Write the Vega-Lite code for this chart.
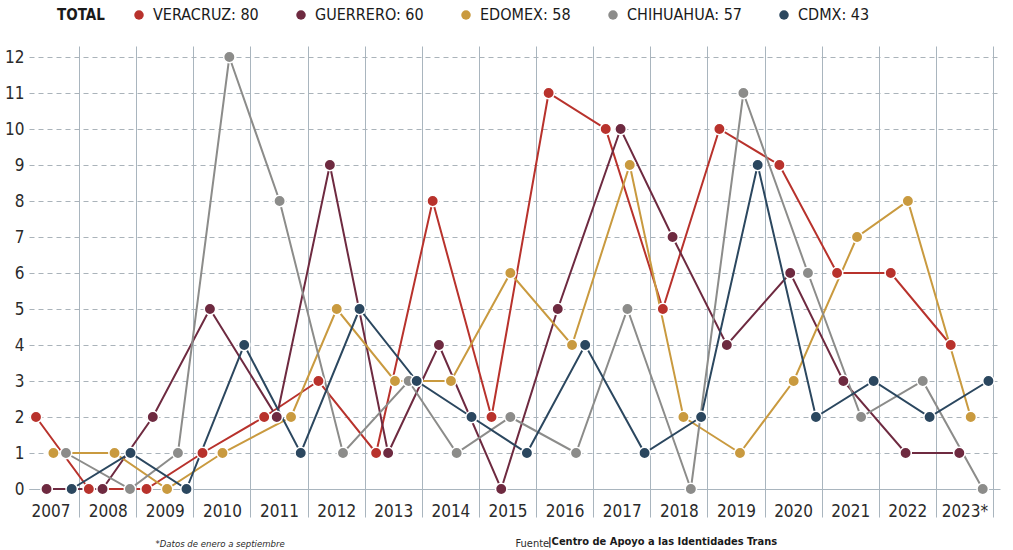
{
  "$schema": "https://vega.github.io/schema/vega-lite/v6.json",
  "width": 971,
  "height": 443,
  "autosize": "none",
  "padding": {"left": 29, "top": 46, "right": 13, "bottom": 61},
  "background": "white",
  "config": {
    "view": {"stroke": null},
    "font": "Liberation Sans Narrow, DejaVu Sans Condensed, sans-serif"
  },
  "title": {
    "text": "|Centro de Apoyo a las Identidades Trans",
    "orient": "bottom",
    "anchor": "start",
    "frame": "group",
    "baseline": "middle",
    "offset": 0,
    "dy": -6,
    "dx": 519,
    "fontSize": 11,
    "fontWeight": "bold",
    "font": "Liberation Sans Narrow, DejaVu Sans Condensed, sans-serif",
    "color": "#1a1a1a"
  },
  "data": {
    "values": [
      {"estado": "VERACRUZ", "fecha": 2007.245, "casos": 2},
      {"estado": "VERACRUZ", "fecha": 2008.17, "casos": 0},
      {"estado": "VERACRUZ", "fecha": 2009.18, "casos": 0},
      {"estado": "VERACRUZ", "fecha": 2010.16, "casos": 1},
      {"estado": "VERACRUZ", "fecha": 2011.24, "casos": 2},
      {"estado": "VERACRUZ", "fecha": 2012.19, "casos": 3},
      {"estado": "VERACRUZ", "fecha": 2013.2, "casos": 1},
      {"estado": "VERACRUZ", "fecha": 2014.19, "casos": 8},
      {"estado": "VERACRUZ", "fecha": 2015.22, "casos": 2},
      {"estado": "VERACRUZ", "fecha": 2016.22, "casos": 11},
      {"estado": "VERACRUZ", "fecha": 2017.22, "casos": 10},
      {"estado": "VERACRUZ", "fecha": 2018.22, "casos": 5},
      {"estado": "VERACRUZ", "fecha": 2019.21, "casos": 10},
      {"estado": "VERACRUZ", "fecha": 2020.26, "casos": 9},
      {"estado": "VERACRUZ", "fecha": 2021.27, "casos": 6},
      {"estado": "VERACRUZ", "fecha": 2022.21, "casos": 6},
      {"estado": "VERACRUZ", "fecha": 2023.26, "casos": 4},
      {"estado": "GUERRERO", "fecha": 2007.43, "casos": 0},
      {"estado": "GUERRERO", "fecha": 2008.41, "casos": 0},
      {"estado": "GUERRERO", "fecha": 2009.29, "casos": 2},
      {"estado": "GUERRERO", "fecha": 2010.29, "casos": 5},
      {"estado": "GUERRERO", "fecha": 2011.46, "casos": 2},
      {"estado": "GUERRERO", "fecha": 2012.39, "casos": 9},
      {"estado": "GUERRERO", "fecha": 2013.41, "casos": 1},
      {"estado": "GUERRERO", "fecha": 2014.3, "casos": 4},
      {"estado": "GUERRERO", "fecha": 2015.39, "casos": 0},
      {"estado": "GUERRERO", "fecha": 2016.38, "casos": 5},
      {"estado": "GUERRERO", "fecha": 2017.48, "casos": 10},
      {"estado": "GUERRERO", "fecha": 2018.39, "casos": 7},
      {"estado": "GUERRERO", "fecha": 2019.34, "casos": 4},
      {"estado": "GUERRERO", "fecha": 2020.45, "casos": 6},
      {"estado": "GUERRERO", "fecha": 2021.38, "casos": 3},
      {"estado": "GUERRERO", "fecha": 2022.47, "casos": 1},
      {"estado": "GUERRERO", "fecha": 2023.41, "casos": 1},
      {"estado": "EDOMEX", "fecha": 2007.55, "casos": 1},
      {"estado": "EDOMEX", "fecha": 2008.62, "casos": 1},
      {"estado": "EDOMEX", "fecha": 2009.54, "casos": 0},
      {"estado": "EDOMEX", "fecha": 2010.51, "casos": 1},
      {"estado": "EDOMEX", "fecha": 2011.71, "casos": 2},
      {"estado": "EDOMEX", "fecha": 2012.51, "casos": 5},
      {"estado": "EDOMEX", "fecha": 2013.53, "casos": 3},
      {"estado": "EDOMEX", "fecha": 2014.51, "casos": 3},
      {"estado": "EDOMEX", "fecha": 2015.55, "casos": 6},
      {"estado": "EDOMEX", "fecha": 2016.63, "casos": 4},
      {"estado": "EDOMEX", "fecha": 2017.64, "casos": 9},
      {"estado": "EDOMEX", "fecha": 2018.58, "casos": 2},
      {"estado": "EDOMEX", "fecha": 2019.57, "casos": 1},
      {"estado": "EDOMEX", "fecha": 2020.51, "casos": 3},
      {"estado": "EDOMEX", "fecha": 2021.62, "casos": 7},
      {"estado": "EDOMEX", "fecha": 2022.51, "casos": 8},
      {"estado": "EDOMEX", "fecha": 2023.61, "casos": 2},
      {"estado": "CHIHUAHUA", "fecha": 2007.77, "casos": 1},
      {"estado": "CHIHUAHUA", "fecha": 2008.89, "casos": 0},
      {"estado": "CHIHUAHUA", "fecha": 2009.73, "casos": 1},
      {"estado": "CHIHUAHUA", "fecha": 2010.63, "casos": 12},
      {"estado": "CHIHUAHUA", "fecha": 2011.51, "casos": 8},
      {"estado": "CHIHUAHUA", "fecha": 2012.62, "casos": 1},
      {"estado": "CHIHUAHUA", "fecha": 2013.77, "casos": 3},
      {"estado": "CHIHUAHUA", "fecha": 2014.61, "casos": 1},
      {"estado": "CHIHUAHUA", "fecha": 2015.55, "casos": 2},
      {"estado": "CHIHUAHUA", "fecha": 2016.7, "casos": 1},
      {"estado": "CHIHUAHUA", "fecha": 2017.6, "casos": 5},
      {"estado": "CHIHUAHUA", "fecha": 2018.71, "casos": 0},
      {"estado": "CHIHUAHUA", "fecha": 2019.63, "casos": 11},
      {"estado": "CHIHUAHUA", "fecha": 2020.76, "casos": 6},
      {"estado": "CHIHUAHUA", "fecha": 2021.69, "casos": 2},
      {"estado": "CHIHUAHUA", "fecha": 2022.77, "casos": 3},
      {"estado": "CHIHUAHUA", "fecha": 2023.82, "casos": 0},
      {"estado": "CDMX", "fecha": 2007.87, "casos": 0},
      {"estado": "CDMX", "fecha": 2008.9, "casos": 1},
      {"estado": "CDMX", "fecha": 2009.88, "casos": 0},
      {"estado": "CDMX", "fecha": 2010.89, "casos": 4},
      {"estado": "CDMX", "fecha": 2011.88, "casos": 1},
      {"estado": "CDMX", "fecha": 2012.91, "casos": 5},
      {"estado": "CDMX", "fecha": 2013.91, "casos": 3},
      {"estado": "CDMX", "fecha": 2014.87, "casos": 2},
      {"estado": "CDMX", "fecha": 2015.84, "casos": 1},
      {"estado": "CDMX", "fecha": 2016.86, "casos": 4},
      {"estado": "CDMX", "fecha": 2017.9, "casos": 1},
      {"estado": "CDMX", "fecha": 2018.89, "casos": 2},
      {"estado": "CDMX", "fecha": 2019.88, "casos": 9},
      {"estado": "CDMX", "fecha": 2020.9, "casos": 2},
      {"estado": "CDMX", "fecha": 2021.91, "casos": 3},
      {"estado": "CDMX", "fecha": 2022.89, "casos": 2},
      {"estado": "CDMX", "fecha": 2023.92, "casos": 3}
    ]
  },
  "encoding": {
    "x": {
      "field": "fecha",
      "type": "quantitative",
      "scale": {"domain": [2007.1225, 2024.1225], "nice": false, "zero": false},
      "axis": {
        "values": [2008, 2009, 2010, 2011, 2012, 2013, 2014, 2015, 2016, 2017, 2018, 2019, 2020, 2021, 2022, 2023, 2024],
        "labelExpr": "datum.value == 2024 ? '2023*' : '' + (datum.value - 1)",
        "labelOffset": -28.56,
        "labelOverlap": false,
        "labelBound": false,
        "labelFlush": false,
        "labelPadding": -14,
        "labelFontSize": 17,
        "labelColor": "#2b2b2b",
        "labelFont": "Liberation Sans Narrow, DejaVu Sans Condensed, sans-serif",
        "grid": true,
        "gridColor": "#a9b5be",
        "gridWidth": 1,
        "ticks": true,
        "tickSize": 28,
        "tickColor": "#a9b5be",
        "tickWidth": 1,
        "domain": true,
        "domainColor": "#a9b5be",
        "domainWidth": 1.2,
        "title": "Fuente",
        "titleX": 486,
        "titleY": 54,
        "titleAlign": "left",
        "titleBaseline": "middle",
        "titleFontWeight": "normal",
        "titleFontSize": 11,
        "titleColor": "#2b2b2b",
        "titleFont": "Liberation Sans Narrow, DejaVu Sans Condensed, sans-serif"
      }
    },
    "y": {
      "field": "casos",
      "type": "quantitative",
      "scale": {"domain": [0, 12.3056], "nice": false},
      "axis": {
        "values": [0, 1, 2, 3, 4, 5, 6, 7, 8, 9, 10, 11, 12],
        "labelFontSize": 17,
        "labelColor": "#2b2b2b",
        "labelFont": "Liberation Sans Narrow, DejaVu Sans Condensed, sans-serif",
        "labelPadding": 5,
        "grid": true,
        "gridColor": "#aab3ba",
        "gridDash": [5, 4],
        "gridWidth": 1.2,
        "ticks": false,
        "domain": false,
        "title": "*Datos de enero a septiembre",
        "titleAngle": 0,
        "titleX": 126,
        "titleY": 497,
        "titleAlign": "left",
        "titleBaseline": "middle",
        "titleFontWeight": "normal",
        "titleFontStyle": "italic",
        "titleFontSize": 9.5,
        "titleColor": "#2b2b2b",
        "titleFont": "Liberation Sans Narrow, DejaVu Sans Condensed, sans-serif"
      }
    },
    "color": {
      "field": "estado",
      "type": "nominal",
      "scale": {
        "domain": ["VERACRUZ", "GUERRERO", "EDOMEX", "CHIHUAHUA", "CDMX"],
        "range": ["#b8322c", "#6e2a40", "#c99a3f", "#8c8c8a", "#2b475f"]
      },
      "legend": {
        "orient": "none",
        "legendX": 28,
        "legendY": -39,
        "direction": "horizontal",
        "columns": 5,
        "columnPadding": 34,
        "title": "TOTAL",
        "titleOrient": "left",
        "titleFontSize": 15,
        "titleFontWeight": "bold",
        "titleColor": "#1a1a1a",
        "titlePadding": 26,
        "titleFont": "Liberation Sans Narrow, DejaVu Sans Condensed, sans-serif",
        "labelExpr": "{'VERACRUZ': 'VERACRUZ: 80', 'GUERRERO': 'GUERRERO: 60', 'EDOMEX': 'EDOMEX: 58', 'CHIHUAHUA': 'CHIHUAHUA: 57', 'CDMX': 'CDMX: 43'}[datum.label]",
        "labelFontSize": 16,
        "labelColor": "#1a1a1a",
        "labelFont": "Liberation Sans Narrow, DejaVu Sans Condensed, sans-serif",
        "labelOffset": 6,
        "symbolType": "circle",
        "symbolSize": 90,
        "symbolStrokeWidth": 0,
        "symbolOpacity": 1
      }
    }
  },
  "layer": [
    {"mark": {"type": "line", "strokeWidth": 2}},
    {"mark": {"type": "point", "shape": "circle", "filled": true, "size": 130, "opacity": 1, "stroke": "white", "strokeWidth": 1.5}}
  ]
}
